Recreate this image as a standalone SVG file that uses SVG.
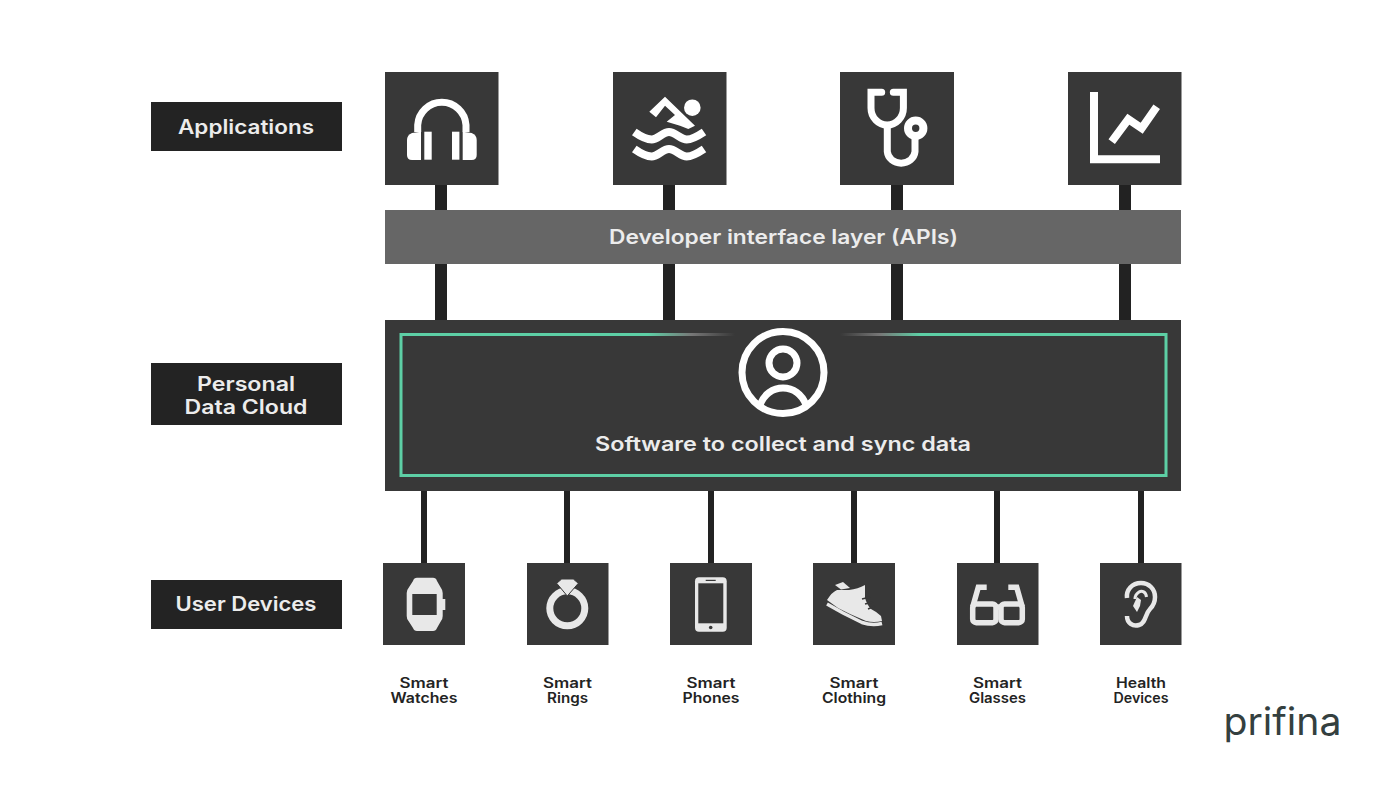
<svg xmlns="http://www.w3.org/2000/svg" width="1400" height="788" viewBox="0 0 1400 788">
<style>
text{font-family:"Inter","Liberation Sans",sans-serif;font-weight:600;text-anchor:middle}
.box{fill:#383838}
.lab{fill:#232323}
.t{fill:#ececec;font-size:19.500px}
.d{fill:#232323;font-size:14px}
.c{fill:#222}
.w{fill:#fff}
.ws{fill:none;stroke:#fff;stroke-width:7}
.g{fill:#e8e8e8}
.gs{fill:none;stroke:#e8e8e8}
</style>
<defs>
<linearGradient id="fadeL" gradientUnits="userSpaceOnUse" x1="648" y1="0" x2="735" y2="0"><stop offset="0" stop-color="#5dcfa5"/><stop offset=".5" stop-color="#777"/><stop offset="1" stop-color="#383838"/></linearGradient>
<linearGradient id="fadeR" gradientUnits="userSpaceOnUse" x1="840" y1="0" x2="920" y2="0"><stop offset="0" stop-color="#383838"/><stop offset=".5" stop-color="#777"/><stop offset="1" stop-color="#5dcfa5"/></linearGradient>
</defs>
<rect width="1400" height="788" fill="#fff"/>
<g id="connectors">
<rect class="c" x="435" y="185" width="12" height="135"/>
<rect class="c" x="663" y="185" width="12" height="135"/>
<rect class="c" x="891" y="185" width="12" height="135"/>
<rect class="c" x="1119" y="185" width="12" height="135"/>
<rect class="c" x="421" y="491" width="6" height="72"/>
<rect class="c" x="564" y="491" width="6" height="72"/>
<rect class="c" x="708" y="491" width="6" height="72"/>
<rect class="c" x="851" y="491" width="6" height="72"/>
<rect class="c" x="994" y="491" width="6" height="72"/>
<rect class="c" x="1138" y="491" width="6" height="72"/>
</g>
<g id="label-applications"><rect class="lab" x="151" y="102" width="191" height="49"/><text class="t" x="246" y="134" textLength="136" lengthAdjust="spacingAndGlyphs">Applications</text></g>
<g id="label-cloud"><rect class="lab" x="151" y="363" width="191" height="62"/><text class="t" x="246" y="390.500" textLength="98" lengthAdjust="spacingAndGlyphs">Personal</text><text class="t" x="246" y="414" textLength="123" lengthAdjust="spacingAndGlyphs">Data Cloud</text></g>
<g id="label-devices"><rect class="lab" x="151" y="580" width="191" height="49"/><text class="t" x="246" y="611" textLength="141" lengthAdjust="spacingAndGlyphs">User Devices</text></g>
<g id="app-headphones"><rect class="box" x="385" y="72" width="113.500" height="113"/>
<path class="ws" d="M417.700 132V125A24.200 24.200 0 0 1 466 125V132"/>
<path class="w" d="M421 131.700V160H412Q407 160 407 155V140Q407 135 412 133Z"/>
<rect class="w" x="424.300" y="131.700" width="7.400" height="28"/><rect class="w" x="452" y="131.700" width="7.400" height="28"/>
<path class="w" d="M462.700 131.700V160H471.700Q476.700 160 476.700 155V140Q476.700 135 471.700 133Z"/></g>
<g id="app-swim"><rect class="box" x="613" y="72" width="113.500" height="113"/>
<circle class="w" cx="692.300" cy="107.700" r="8.300"/>
<path class="w" d="M649.300 111.700L665 96.700L695 125.700L688.300 129L680 125.700L666.700 121.700L675 115L665 105.700L656 117.300Z"/>
<path class="ws" style="stroke-width:8" d="M634.300 132C640 136 646 139.500 651.700 139.500S663 132 669 132S681 139.500 686.700 139.500S698 136 704 132"/>
<path class="ws" style="stroke-width:8" d="M634.300 149C640 153 646 156.500 651.700 156.500S663 149 669 149S681 156.500 686.700 156.500S698 153 704 149"/></g>
<g id="app-stethoscope"><rect class="box" x="840" y="72" width="114" height="113"/>
<path class="ws" stroke-linecap="round" d="M881.700 92.300H871V108A16.200 17 0 0 0 903.400 108V92.300H893.300"/>
<path class="ws" d="M887.300 125V151.700A13.900 12.500 0 0 0 915 151.700V136"/>
<circle cx="915.700" cy="128.300" r="7.700" fill="none" stroke="#fff" stroke-width="8"/></g>
<g id="app-chart"><rect class="box" x="1068" y="72" width="113.500" height="113"/>
<path class="ws" style="stroke-width:8" d="M1094 92V159.300H1160"/>
<path class="ws" style="stroke-width:8" d="M1111.700 141.700L1128.300 119.300L1141.700 128.300L1156.700 106.700"/></g>
<g id="api-layer"><rect x="385" y="210" width="796" height="54" fill="#666"/><text class="t" x="783.500" y="244" textLength="349" lengthAdjust="spacingAndGlyphs">Developer interface layer (APIs)</text></g>
<g id="data-cloud"><rect class="box" x="385" y="320" width="796" height="171"/>
<path fill="none" stroke="#5dcfa5" stroke-width="3" d="M648 334.500H401V475.500H1166V334.500H920"/>
<path fill="none" stroke="url(#fadeL)" stroke-width="3" d="M648 334.500H735"/>
<path fill="none" stroke="url(#fadeR)" stroke-width="3" d="M840 334.500H920"/>
<circle class="ws" cx="783" cy="372.500" r="41"/>
<circle class="ws" cx="783" cy="363" r="14"/>
<path class="ws" d="M760 405C764 394 773 388 783 388C793 388 802 394 806 405"/>
<text class="t" x="783" y="451" textLength="376" lengthAdjust="spacingAndGlyphs">Software to collect and sync data</text></g>
<g id="dev-watch"><rect class="box" x="383" y="563" width="82" height="82"/>
<path class="g" fill-rule="evenodd" d="M417 577.700H433Q436 577.700 437 581L441 588Q442.700 590 442.700 593V599H445.300V610H442.700V616Q442.700 619 441 621L437 628Q436 631 433 631H417Q414 631 413 628L408.500 621Q406.700 619 406.700 616V593Q406.700 590 408.500 588L413 581Q414 577.700 417 577.700ZM412.300 594V615H436.700V594Z"/>
<text class="d" x="424" y="688" textLength="49" lengthAdjust="spacingAndGlyphs">Smart</text><text class="d" x="424" y="703" textLength="67" lengthAdjust="spacingAndGlyphs">Watches</text></g>
<g id="dev-ring"><rect class="box" x="527" y="563" width="81.500" height="82"/>
<circle class="gs" style="stroke-width:7" cx="567.300" cy="608.300" r="17.500"/>
<path class="g" stroke="#383838" stroke-width="1" d="M556.700 583.300L561.700 579H573.300L578.300 583.300L567.300 596Z"/>
<text class="d" x="567.500" y="688" textLength="49" lengthAdjust="spacingAndGlyphs">Smart</text><text class="d" x="567.500" y="703" textLength="41" lengthAdjust="spacingAndGlyphs">Rings</text></g>
<g id="dev-phone"><rect class="box" x="670" y="563" width="82" height="82"/>
<rect class="g" x="695" y="577.300" width="31.700" height="54.400" rx="4"/>
<rect class="box" x="698.300" y="583.300" width="25" height="40"/>
<rect class="box" x="705.700" y="579.800" width="10" height="1.200"/><circle class="box" cx="710.700" cy="627.500" r="1.800"/>
<text class="d" x="711" y="688" textLength="49" lengthAdjust="spacingAndGlyphs">Smart</text><text class="d" x="711" y="703" textLength="57" lengthAdjust="spacingAndGlyphs">Phones</text></g>
<g id="dev-shoe"><rect class="box" x="813" y="563" width="82" height="82"/>
<path class="g" d="M827 600Q832 592 837 590Q843 590 849 590Q858 589 865 585L865 598Q867 605 871 609Q877 612 881 616L882 621Q874 623 866 621L850 614L838 608Z"/>
<path class="g" d="M835 585L843 582L850 588L841 589.500Z"/>
<path class="gs" style="stroke-width:3.500" d="M827 604L843 613L862 622.500Q872 626 882 623.500"/>
<path fill="none" stroke="#383838" stroke-width="1.500" d="M862 599L870 597M865 604L873 602M868 609L875 606"/>
<text class="d" x="854" y="688" textLength="49" lengthAdjust="spacingAndGlyphs">Smart</text><text class="d" x="854" y="703" textLength="64" lengthAdjust="spacingAndGlyphs">Clothing</text></g>
<g id="dev-glasses"><rect class="box" x="957" y="563" width="81.500" height="82"/>
<g class="gs" style="stroke-width:5.500"><rect x="972.700" y="604" width="23.300" height="18.700" rx="3.500"/><rect x="1001" y="604" width="21.300" height="18.700" rx="3.500"/>
<path d="M996 607H1001M972.700 607L978.300 587.300H986.700M1022.300 607L1016.700 587.300H1008.300"/></g>
<text class="d" x="997.500" y="688" textLength="49" lengthAdjust="spacingAndGlyphs">Smart</text><text class="d" x="997.500" y="703" textLength="57" lengthAdjust="spacingAndGlyphs">Glasses</text></g>
<g id="dev-ear"><rect class="box" x="1100" y="563" width="81.500" height="82"/>
<path class="gs" style="stroke-width:4.500" d="M1127 616C1127 623 1133 627 1139 625C1146 623 1145 614 1150 609C1154 605 1155 601 1155 597C1155 589 1149 583 1141 583C1132 583 1126 590 1127 598"/>
<path class="gs" style="stroke-width:3" d="M1146.500 597C1146 592 1142 590 1139 592C1136 594 1135 597 1135 599"/>
<path class="g" d="M1133 606L1137 597L1141 600L1140 606L1137 612Z"/>
<text class="d" x="1141" y="688" textLength="50" lengthAdjust="spacingAndGlyphs">Health</text><text class="d" x="1141" y="703" textLength="55" lengthAdjust="spacingAndGlyphs">Devices</text></g>
<g id="logo"><text x="1282.500" y="735" font-size="38" textLength="118" lengthAdjust="spacingAndGlyphs" style="font-weight:400" fill="#34403f">prifina</text></g>
</svg>
